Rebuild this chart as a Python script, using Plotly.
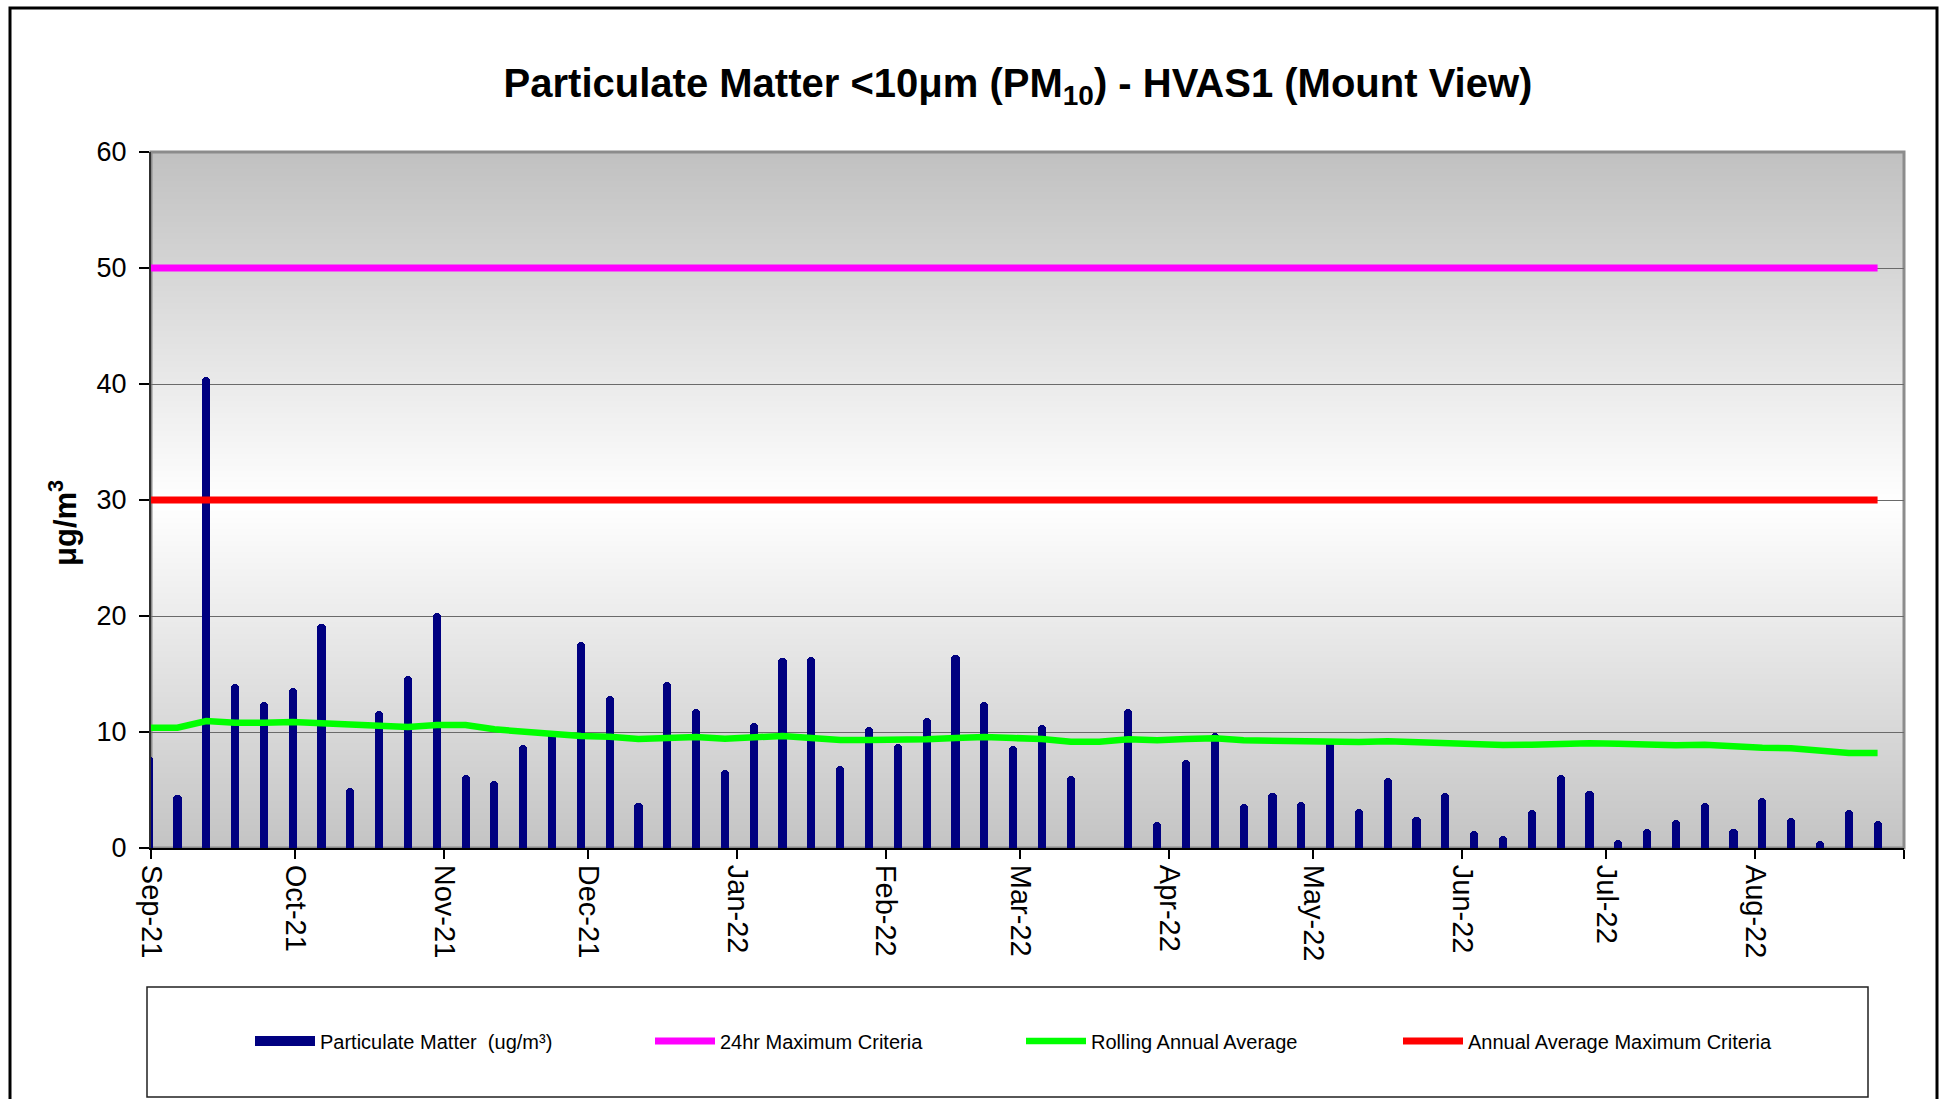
import plotly.graph_objects as go

# ---------------- data ----------------
sample_dates = [
    "2021-08-31", "2021-09-06", "2021-09-12", "2021-09-18", "2021-09-24", "2021-09-30",
    "2021-10-06", "2021-10-12", "2021-10-18", "2021-10-24", "2021-10-30",
    "2021-11-05", "2021-11-11", "2021-11-17", "2021-11-23", "2021-11-29",
    "2021-12-05", "2021-12-11", "2021-12-17", "2021-12-23", "2021-12-29",
    "2022-01-04", "2022-01-10", "2022-01-16", "2022-01-22", "2022-01-28",
    "2022-02-03", "2022-02-09", "2022-02-15", "2022-02-21", "2022-02-27",
    "2022-03-05", "2022-03-11", "2022-03-17", "2022-03-23", "2022-03-29",
    "2022-04-04", "2022-04-10", "2022-04-16", "2022-04-22", "2022-04-28",
    "2022-05-04", "2022-05-10", "2022-05-16", "2022-05-22", "2022-05-28",
    "2022-06-03", "2022-06-09", "2022-06-15", "2022-06-21", "2022-06-27",
    "2022-07-03", "2022-07-09", "2022-07-15", "2022-07-21", "2022-07-27",
    "2022-08-02", "2022-08-08", "2022-08-14", "2022-08-20", "2022-08-26",
]

pm10 = [
    7.9, 4.6, 40.6, 14.1, 12.6, 13.8,
    19.3, 5.2, 11.8, 14.8, 20.3,
    6.3, 5.8, 8.9, 10.1, 17.8,
    13.1, 3.9, 14.3, 12.0, 6.7,
    10.8, 16.4, 16.5, 7.1, 10.4,
    9.0, 11.2, 16.6, 12.6, 8.8,
    10.6, 6.2, None, 12.0, 2.2,
    7.6, 9.9, 3.8, 4.7, 4.0,
    9.4, 3.4, 6.0, 2.7, 4.7,
    1.5, 1.0, 3.3, 6.3, 4.9,
    0.7, 1.6, 2.4, 3.9, 1.6,
    4.3, 2.6, 0.6, 3.3, 2.3,
]

rolling_avg = [
    10.37, 10.37, 10.95, 10.80, 10.80, 10.86,
    10.75, 10.63, 10.43, 10.43, 10.60,
    10.60, 10.23, 10.03, 9.80, 9.65,
    9.60, 9.40, 9.48, 9.57, 9.42,
    9.48, 9.66, 9.48, 9.31, 9.31,
    9.31, 9.37, 9.48, 9.57, 9.48,
    9.40, 9.16, 9.16, 9.37, 9.28,
    9.40, 9.46, 9.28, 9.22, 9.14,
    9.14, 9.14, 9.20, 9.10, 9.10,
    8.94, 8.88, 8.90, 8.99, 9.02,
    8.99, 8.88, 8.85, 8.90, 8.73,
    8.65, 8.60, 8.39, 8.19, 8.19,
]

criteria_24hr = 50
criteria_annual = 30

month_ticks = [
    "2021-09-01", "2021-10-01", "2021-11-01", "2021-12-01", "2022-01-01", "2022-02-01",
    "2022-03-01", "2022-04-01", "2022-05-01", "2022-06-01", "2022-07-01", "2022-08-01",
    "2022-09-01",
]
month_labels = [
    "Sep-21", "Oct-21", "Nov-21", "Dec-21", "Jan-22", "Feb-22",
    "Mar-22", "Apr-22", "May-22", "Jun-22", "Jul-22", "Aug-22", " ",
]

# ---------------- geometry helpers ----------------
W, H = 1939, 1099
L, R, T, B = 151, 1904, 152, 848
PW, PH = R - L, B - T


def px(X):
    return (X - L) / PW


def py(Y):
    return (B - Y) / PH


FONT = "Arial, Liberation Sans, sans-serif"
x_mid = [d + " 12:00" for d in sample_dates]

fig = go.Figure()

fig.add_trace(go.Bar(
    x=x_mid, y=pm10, name="Particulate Matter  (ug/m³)",
    marker=dict(color="#000080", line=dict(width=0), cornerradius=4),
    width=1.7 * 86400000, showlegend=False,
))
# legend entry for the bars (wide swatch like the original)
fig.add_trace(go.Scatter(
    x=[None], y=[None], mode="lines", name="Particulate Matter  (ug/m³)",
    line=dict(color="#000080", width=14), legend="legend",
))
fig.add_trace(go.Scatter(
    x=x_mid, y=[criteria_24hr] * len(x_mid), mode="lines", name="24hr Maximum Criteria",
    line=dict(color="#FF00FF", width=7), legend="legend2",
))
fig.add_trace(go.Scatter(
    x=x_mid, y=rolling_avg, mode="lines", name="Rolling Annual Average",
    line=dict(color="#00FF00", width=6.5), legend="legend3",
))
fig.add_trace(go.Scatter(
    x=x_mid, y=[criteria_annual] * len(x_mid), mode="lines", name="Annual Average Maximum Criteria",
    line=dict(color="#FF0000", width=7), legend="legend4",
))

# ---------------- background gradient ----------------
shapes = []
nb = 120
for i in range(nb):
    v0 = 60 * i / nb
    v1 = 60 * (i + 1) / nb
    vm = (v0 + v1) / 2
    if vm >= 30:
        c = 255 - (vm - 30) / 30 * (255 - 192)
    else:
        c = 255 - (30 - vm) / 30 * (255 - 196)
    c = int(round(c))
    top = min(60, v1 + 0.3)
    shapes.append(dict(type="rect", xref="paper", yref="y", x0=0, x1=1, y0=v0, y1=top,
                       fillcolor=f"rgb({c},{c},{c})", line=dict(width=0), layer="below"))
# plot border (grey)
shapes.append(dict(type="rect", xref="paper", yref="paper", x0=0, x1=1, y0=0, y1=1,
                   line=dict(color="#8c8c8c", width=3), layer="below"))
# outer chart frame
shapes.append(dict(type="rect", xref="paper", yref="paper",
                   x0=px(10), x1=px(1937), y0=py(1110), y1=py(8),
                   line=dict(color="black", width=3)))
# legend box
shapes.append(dict(type="rect", xref="paper", yref="paper",
                   x0=px(147), x1=px(1868), y0=py(1097), y1=py(987),
                   line=dict(color="#202020", width=1.5), fillcolor="rgba(0,0,0,0)"))

legend_common = dict(orientation="h", yanchor="middle", xanchor="left",
                     bgcolor="rgba(0,0,0,0)", borderwidth=0, itemwidth=60,
                     font=dict(family=FONT, size=20, color="black"))
ly = py(1041)

fig.update_layout(
    width=W, height=H,
    margin=dict(l=L, r=W - R, t=T, b=H - B, pad=0),
    paper_bgcolor="white", plot_bgcolor="white",
    font=dict(family=FONT, color="black"),
    bargap=0,
    title=dict(text="<b>Particulate Matter &lt;10μm (PM<sub>10</sub>) - HVAS1 (Mount View)</b>",
               x=1018 / W, xanchor="center", xref="container",
               y=1 - 83 / H, yanchor="middle", yref="container",
               font=dict(family=FONT, size=40, color="black")),
    xaxis=dict(type="date", range=["2021-09-01", "2022-09-01"],
               tickmode="array", tickvals=month_ticks, ticktext=month_labels,
               tickangle=90, ticks="outside", ticklen=9, tickwidth=1.5, tickcolor="black",
               showline=True, linecolor="black", linewidth=2, showgrid=False, zeroline=False,
               tickfont=dict(family=FONT, size=29, color="black")),
    yaxis=dict(range=[0, 60], dtick=10, ticks="outside", ticklen=10, tickwidth=1.5,
               tickcolor="black", showline=True, linecolor="#303030", linewidth=2,
               showgrid=True, gridcolor="#6a6a6a", gridwidth=1.3, zeroline=False,
               ticklabelstandoff=7,
               tickfont=dict(family=FONT, size=27, color="black")),
    shapes=shapes,
    annotations=[dict(text="<b>μg/m<sup>3</sup></b>", xref="paper", yref="paper",
                      x=px(63), y=py(523), textangle=-90, showarrow=False,
                      xanchor="center", yanchor="middle",
                      font=dict(family=FONT, size=31, color="black"))],
    legend=dict(x=px(250), y=ly, **legend_common),
    legend2=dict(x=px(650), y=ly, **legend_common),
    legend3=dict(x=px(1021), y=ly, **legend_common),
    legend4=dict(x=px(1398), y=ly, **legend_common),
)

fig.write_html("out.html", config={"displayModeBar": False},
               post_script="document.body.style.margin='0';document.body.style.overflow='hidden';")
